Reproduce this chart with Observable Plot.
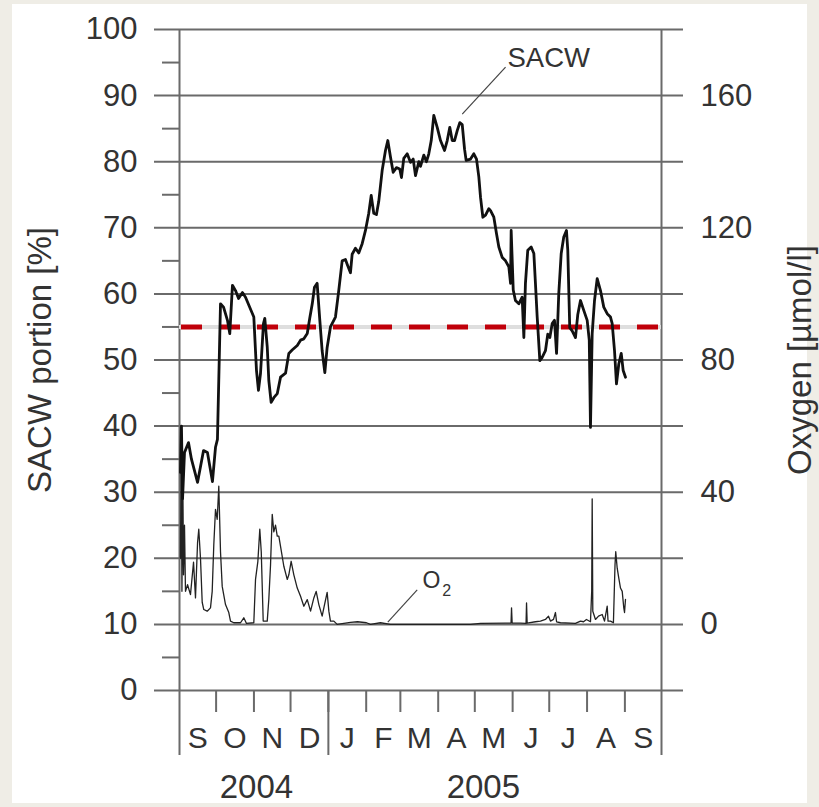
<!DOCTYPE html>
<html>
<head>
<meta charset="utf-8">
<script src="https://cdn.jsdelivr.net/npm/d3@7"></script>
<script src="https://cdn.jsdelivr.net/npm/@observablehq/plot@0.6"></script>
<style>
  html, body { margin: 0; padding: 0; background: #efede6; }
  #panel { position: absolute; left: 12px; top: 4px; width: 795px; height: 799px; background: #fff; }
  #chart { position: absolute; left: 0; top: 0; }
</style>
</head>
<body>
<div id="panel"></div>
<div id="chart"></div>
<script>
// Mooring record, Sep 2004 – Aug 2005. Times are days since 1 Sep 2004.

// SACW portion [%]: [day, percent]
const sacwSeries = [
  [0.8,33],[1.6,40],[2.5,29],[4.1,36],[7.4,37.5],[9.8,35],[14.8,31.5],[19.7,36.3],[22.9,36],[27.0,31.6],
  [29.5,36.8],[31.1,38],[33.6,58.5],[36.1,58],[39.3,56],[41.2,54],[43.4,61.3],[45.9,60.5],[48.4,59.3],[51.6,60.2],
  [54.1,59.5],[60.9,56.5],[63.1,48.4],[64.7,45.4],[66.4,48],[68.8,55.5],[69.9,56.3],[71.9,52],[73.2,46.9],[75.1,43.6],
  [77.3,44.3],[80.1,44.9],[82.8,47.4],[86.9,48],[89.6,51],[92.3,51.5],[96.5,52.2],[99.2,53],[101.9,53.2],[104.7,54],
  [106.8,56.4],[108.8,58.5],[110.6,61],[112.8,61.6],[115.0,56],[116.9,51.4],[119.1,48.1],[121.0,51.9],[123.7,55],[127.8,56.5],
  [130.5,60.5],[133.3,65],[136.0,65.2],[137.4,64.5],[140.1,63.2],[141.5,66],[144.2,66.9],[146.9,66.2],[149.7,67.6],[152.4,69.6],
  [155.1,72.2],[157.1,74.9],[159.2,72.2],[161.4,72],[163.3,74],[166.1,78.7],[168.8,81.7],[170.7,83.2],[172.9,80.7],[175.1,78.4],
  [177.8,79.1],[180.5,78.9],[181.9,77.6],[183.8,80.5],[186.6,81.2],[189.3,79.9],[191.5,80.4],[193.4,77.9],[196.1,80],[197.5,79.3],
  [200.2,81],[202.4,80],[204.3,81.2],[206.3,83.2],[208.4,87],[211.2,85.2],[213.9,83.2],[217.2,81.7],[219.4,83.2],[221.5,85.2],
  [223.5,83.2],[225.4,83.2],[227.6,84.7],[229.7,85.9],[231.7,85.6],[233.6,81.9],[234.9,80.2],[238.5,80.4],[241.2,81.2],[243.4,80.4],
  [245.3,77.7],[246.7,74.6],[248.6,71.6],[250.8,71.9],[253.5,72.9],[254.9,72.6],[257.6,71.6],[259.8,69.1],[261.7,67.1],[264.5,65.5],
  [267.2,65],[269.9,64.1],[271.3,61.6],[271.8,69.6],[273.5,60.6],[275.3,59],[278.1,58.5],[280.8,59.5],[282.2,53.4],[283.5,61.6],
  [285.4,66.6],[288.2,67.1],[290.4,66.1],[291.7,61.6],[293.1,56.6],[295.3,49.9],[297.2,50.4],[299.9,51.4],[301.8,53.9],[303.5,53.4],
  [305.4,55.5],[307.3,56],[309.0,51],[310.8,60],[312.8,66.1],[314.9,68.6],[317.1,69.6],[318.2,66.6],[319.8,54.9],[321.8,54.4],
  [324.5,53.4],[326.4,56.9],[328.6,59],[331.3,57.5],[334.1,56],[335.8,53],[336.8,39.8],[338.2,54],[340.1,59],[342.3,62.3],
  [345.0,60.5],[347.7,58],[350.5,57],[353.2,56.5],[354.6,55.5],[356.5,51.4],[358.1,46.4],[360.0,49.4],[362.0,51],[363.6,48.4],
  [365.5,47.4]
];

// Dissolved oxygen [µmol/l]: [day, concentration]
const o2Series = [
  [0.8,20],[1.4,55],[2.0,10],[2.7,45],[3.3,15],[4.1,30],[4.9,10],[6.6,12],[9.0,9],[11.5,18.8],
  [13.1,8],[14.8,24.8],[15.8,28.8],[17.2,20],[18.6,6.7],[19.9,4.5],[22.7,4],[25.4,5],[26.8,10],[28.1,24],
  [29.5,34.8],[30.9,31.8],[32.2,41.8],[33.6,22],[35.0,11.5],[37.7,6],[40.4,3.6],[41.8,1],[44.5,0.5],[50.0,0.5],
  [52.7,2],[54.9,0.3],[60.9,0.5],[62.3,13.6],[64.2,19],[65.8,28.8],[67.0,22],[68.6,1],[71.9,1],[73.2,7.6],
  [74.6,18],[76.0,33.3],[77.3,28],[78.7,30],[80.1,26.7],[81.4,26.7],[82.8,23.6],[85.5,17.6],[88.3,13.6],[89.6,15],
  [91.5,19.1],[93.7,15],[96.5,11],[99.2,8.5],[101.9,5.5],[104.7,7.5],[107.4,4],[110.1,8],[112.0,10],[114.2,6],
  [116.9,2.5],[118.3,5],[121.0,9.7],[122.4,4],[123.7,1],[126.5,1],[129.2,0],[140.1,0.6],[145.9,0.8],[153.2,0.5],
  [156.5,0],[164.7,0.5],[172.9,0],[238.5,0],[246.7,0.3],[267.2,0.4],[271.7,0.4],[272.1,5],[272.6,0.4],[279.4,0.4],
  [284.0,0.3],[284.4,6.5],[284.9,0.4],[291.7,0.8],[295.8,1],[299.9,1.5],[302.4,2.5],[304.0,1],[306.5,1.5],[308.1,3.6],
  [309.0,0.8],[312.2,0.5],[324.5,0.3],[328.6,1],[331.1,0.8],[333.5,1.5],[336.8,0.8],[337.8,10],[338.2,38],[338.7,4],
  [340.9,1.5],[343.4,2.5],[346.4,3],[348.3,1],[350.5,5.5],[351.2,1],[353.2,1],[355.6,0.5],[356.9,18],[357.5,22],
  [358.7,17],[360.0,14],[361.4,11],[362.8,10],[364.1,5],[364.7,3.6],[365.5,7.6]
];

const sacwTicks = [0, 10, 20, 30, 40, 50, 60, 70, 80, 90, 100];
const sacwMinorTicks = [5, 15, 25, 35, 45, 55, 65, 75, 85, 95];
const oxygenTicks = [0, 40, 80, 120, 160];
const monthLabels = ["S", "O", "N", "D", "J", "F", "M", "A", "M", "J", "J", "A", "S"];
const yearLabels = ["2004", "2005"];
const threshold = 55;

// time helpers
const t0 = Date.UTC(2004, 8, 1);
const toDate = d => new Date(t0 + d * 864e5);
const tEnd = new Date(Date.UTC(2005, 9, 1));
const jan2005 = new Date(Date.UTC(2005, 0, 1));
const monthBounds = d3.utcMonth.range(new Date(t0), new Date(+tEnd + 1));
const monthMids = monthBounds.slice(0, -1).map((d, i) => new Date((+d + +monthBounds[i + 1]) / 2));
const yearPos = [toDate(63), toDate(249)];

// oxygen shares the left scale: 0 µmol/l ↔ 10 %, 160 µmol/l ↔ 90 %
const o2ToPct = v => 10 + v / 2;
const pctToO2 = p => (p - 10) * 2;

const sacw = sacwSeries.map(([d, v]) => ({date: toDate(d), value: v}));
const o2 = o2Series.map(([d, v]) => ({date: toDate(d), value: v}));

const ink = "#333";
const gridInk = "#6a6a6a";
const font = "'Liberation Sans', Arial, Helvetica, sans-serif";

const chart = Plot.plot({
  width: 819,
  height: 807,
  marginLeft: 179,
  marginRight: 158,
  marginTop: 29,
  marginBottom: 117,
  style: {background: "transparent", fontFamily: font, color: ink, overflow: "visible"},
  x: {type: "utc", domain: [new Date(t0), tEnd], axis: null},
  y: {domain: [0, 100], axis: null},
  marks: [
    // horizontal grid, running past both frame edges
    Plot.ruleY(sacwTicks, {stroke: gridInk, strokeWidth: 2, insetLeft: -25, insetRight: -22}),
    // minor ticks on the left axis
    Plot.ruleY(sacwMinorTicks, {x1: () => new Date(t0), x2: () => new Date(t0), insetLeft: -17, stroke: gridInk, strokeWidth: 2}),
    // frame sides, extended down through the month row
    Plot.ruleX([new Date(t0), tEnd], {stroke: gridInk, strokeWidth: 2, insetBottom: -65}),
    // year divider
    Plot.ruleX([jan2005], {y1: () => 0, y2: () => 0, insetBottom: -65, stroke: gridInk, strokeWidth: 2}),
    // month ticks
    Plot.ruleX(monthBounds.slice(1, -1), {y1: () => 0, y2: () => 0, insetBottom: -22, stroke: gridInk, strokeWidth: 2}),
    // reference level
    Plot.ruleY([threshold], {stroke: "#dedede", strokeWidth: 4}),
    Plot.ruleY([threshold], {stroke: "#c0000a", strokeWidth: 5, strokeDasharray: "21,17", dx: 2}),
    // series
    Plot.line(o2, {x: "date", y: d => o2ToPct(d.value), stroke: "#222", strokeWidth: 1.3}),
    Plot.line(sacw, {x: "date", y: "value", stroke: "#111", strokeWidth: 2.8, strokeLinejoin: "round"}),
    // left axis labels
    Plot.axisY(sacwTicks, {anchor: "left", tickSize: 0, tickPadding: 42, fontSize: 31, label: null, fill: ink}),
    // right axis labels (oxygen)
    Plot.axisY(oxygenTicks.map(o2ToPct), {anchor: "right", tickSize: 0, tickPadding: 39, fontSize: 31, label: null,
      tickFormat: p => String(pctToO2(p)), fill: ink}),
    // month letters and years
    Plot.text(monthMids, {x: d => d, text: (d, i) => monthLabels[i], frameAnchor: "bottom", dy: 57, fontSize: 30, fill: ink}),
    Plot.text(yearPos, {x: d => d, text: (d, i) => yearLabels[i], frameAnchor: "bottom", dy: 107, fontSize: 33, fill: ink}),
    // axis titles
    Plot.text(["SACW portion [%]"], {frameAnchor: "left", textAnchor: "middle", dx: -139, rotate: -90, fontSize: 33, fill: ink}),
    Plot.text(["Oxygen [µmol/l]"], {frameAnchor: "right", textAnchor: "middle", dx: 139, rotate: -90, fontSize: 33, fill: ink}),
    // series labels with leaders
    Plot.link([0], {x1: () => toDate(231.7), y1: () => 87.2, x2: () => toDate(267.2), y2: () => 94.3, stroke: "#444", strokeWidth: 1.2}),
    Plot.text(["SACW"], {x: () => toDate(268.8), y: () => 95.7, textAnchor: "start", fontSize: 27.5, fill: ink}),
    Plot.link([0], {x1: () => toDate(170.7), y1: () => 10.33, x2: () => toDate(194.8), y2: () => 15.23, stroke: "#444", strokeWidth: 1.2}),
    Plot.text(["O"], {x: () => toDate(199.1), y: () => 16.64, textAnchor: "start", fontSize: 23, fill: ink}),
    Plot.text(["2"], {x: () => toDate(215.3), y: () => 15.1, textAnchor: "start", fontSize: 16, fill: ink})
  ]
});

document.getElementById("chart").appendChild(chart);
</script>
</body>
</html>
